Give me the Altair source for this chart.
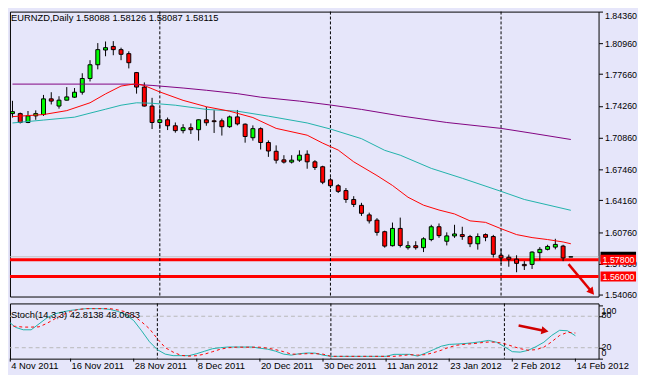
import altair as alt
import pandas as pd

# ---------------- data ----------------
dates = [
    "2011-11-04", "2011-11-07", "2011-11-08", "2011-11-09", "2011-11-10", "2011-11-11",
    "2011-11-14", "2011-11-15", "2011-11-16", "2011-11-17", "2011-11-18", "2011-11-21",
    "2011-11-22", "2011-11-23", "2011-11-24", "2011-11-25", "2011-11-28", "2011-11-29",
    "2011-11-30", "2011-12-01", "2011-12-02", "2011-12-05", "2011-12-06", "2011-12-07",
    "2011-12-08", "2011-12-09", "2011-12-12", "2011-12-13", "2011-12-14", "2011-12-15",
    "2011-12-16", "2011-12-19", "2011-12-20", "2011-12-21", "2011-12-22", "2011-12-23",
    "2011-12-26", "2011-12-27", "2011-12-28", "2011-12-29", "2011-12-30", "2012-01-02",
    "2012-01-03", "2012-01-04", "2012-01-05", "2012-01-06", "2012-01-09", "2012-01-10",
    "2012-01-11", "2012-01-12", "2012-01-13", "2012-01-16", "2012-01-17", "2012-01-18",
    "2012-01-19", "2012-01-20", "2012-01-23", "2012-01-24", "2012-01-25", "2012-01-26",
    "2012-01-27", "2012-01-30", "2012-01-31", "2012-02-01", "2012-02-02", "2012-02-03",
    "2012-02-06", "2012-02-07", "2012-02-08", "2012-02-09", "2012-02-10", "2012-02-13",
    "2012-02-14",
]
opens = [1.7344, 1.7344, 1.7249, 1.7320, 1.7334, 1.7502, 1.7425, 1.7488, 1.7520, 1.7573,
         1.7720, 1.7867, 1.8025, 1.8063, 1.8029, 1.7986, 1.7783, 1.7628, 1.7425, 1.7249,
         1.7278, 1.7214, 1.7162, 1.7193, 1.7172, 1.7278, 1.7267, 1.7267, 1.7204, 1.7309,
         1.7231, 1.7086, 1.7183, 1.7035, 1.6941, 1.6849, 1.6825, 1.6846, 1.6909, 1.6828,
         1.6775, 1.6635, 1.6572, 1.6520, 1.6425, 1.6362, 1.6260, 1.6204, 1.6080, 1.5930,
         1.6115, 1.5909, 1.5930, 1.5909, 1.5996, 1.6133, 1.5978, 1.6035, 1.6049, 1.6028,
         1.5951, 1.6049, 1.6028, 1.5828, 1.5807, 1.5786, 1.5730, 1.5730, 1.5856, 1.5891,
         1.5915, 1.5926, 1.58088]
highs = [1.7481, 1.7355, 1.7372, 1.7379, 1.7544, 1.7573, 1.7530, 1.7628, 1.7618, 1.7776,
         1.7916, 1.8099, 1.8116, 1.8120, 1.8050, 1.8011, 1.7790, 1.7678, 1.7513, 1.7397,
         1.7302, 1.7249, 1.7231, 1.7239, 1.7281, 1.7415, 1.7381, 1.7291, 1.7323, 1.7383,
         1.7239, 1.7218, 1.7197, 1.7057, 1.7004, 1.6899, 1.6899, 1.6951, 1.6951, 1.6846,
         1.6786, 1.6660, 1.6589, 1.6547, 1.6460, 1.6389, 1.6284, 1.6225, 1.6091, 1.6178,
         1.6231, 1.5978, 1.5978, 1.6020, 1.6154, 1.6168, 1.6073, 1.6154, 1.6133, 1.6046,
         1.6062, 1.6062, 1.6046, 1.5898, 1.5835, 1.5828, 1.5765, 1.5870, 1.5915, 1.5940,
         1.6004, 1.5940, 1.58126]
lows = [1.7302, 1.7239, 1.7242, 1.7278, 1.7320, 1.7442, 1.7397, 1.7485, 1.7513, 1.7547,
        1.7688, 1.7818, 1.7958, 1.7969, 1.7916, 1.7828, 1.7558, 1.7420, 1.7179, 1.7179,
        1.7168, 1.7140, 1.7133, 1.7126, 1.7055, 1.7214, 1.7137, 1.7109, 1.7192, 1.7218,
        1.7033, 1.7055, 1.6960, 1.6881, 1.6810, 1.6810, 1.6810, 1.6827, 1.6754, 1.6741,
        1.6589, 1.6547, 1.6494, 1.6389, 1.6344, 1.6249, 1.6168, 1.6038, 1.5909, 1.5922,
        1.5912, 1.5888, 1.5888, 1.5862, 1.5978, 1.6014, 1.5933, 1.6014, 1.5993, 1.5915,
        1.5888, 1.5978, 1.5804, 1.5730, 1.5705, 1.5646, 1.5670, 1.5681, 1.5775, 1.5880,
        1.5891, 1.5765, 1.58087]
closes = [1.7365, 1.7249, 1.7320, 1.7344, 1.7502, 1.7478, 1.7488, 1.7523, 1.7573, 1.7720,
          1.7867, 1.8029, 1.8050, 1.8029, 1.7979, 1.7889, 1.7628, 1.7425, 1.7249, 1.7278,
          1.7214, 1.7162, 1.7193, 1.7172, 1.7278, 1.7246, 1.7258, 1.7204, 1.7309, 1.7234,
          1.7099, 1.7183, 1.7035, 1.6944, 1.6846, 1.6825, 1.6846, 1.6899, 1.6828, 1.6768,
          1.6610, 1.6572, 1.6512, 1.6425, 1.6372, 1.6277, 1.6196, 1.6073, 1.5926, 1.6115,
          1.5933, 1.5930, 1.5909, 1.6004, 1.6133, 1.6038, 1.6035, 1.6056, 1.6028, 1.5951,
          1.6028, 1.6020, 1.5838, 1.5799, 1.5786, 1.5741, 1.5716, 1.5862, 1.5891, 1.5922,
          1.5944, 1.5799, 1.58115]

# moving averages read at sampled bars
ma_fast_idx = [0, 4, 7, 10, 12, 14, 16, 17, 19, 22, 25, 28, 31, 34, 38, 40, 42, 44, 47,
               49, 51, 53, 55, 57, 59, 61, 63, 65, 67, 69, 71, 72]
ma_fast = [1.7312, 1.7334, 1.7376, 1.7460, 1.7555, 1.7639, 1.7665, 1.7644, 1.7576, 1.7486,
           1.7418, 1.7370, 1.7302, 1.7186, 1.7113, 1.7028, 1.6954, 1.6828, 1.6681, 1.6575,
           1.6449, 1.6364, 1.6312, 1.6270, 1.6196, 1.6180, 1.6112, 1.6049, 1.6017, 1.5996,
           1.5970, 1.5951]
ma_mid_idx = [0, 4, 8, 10, 12, 14, 16, 18, 21, 25, 29, 33, 38, 41, 45, 48, 50, 54, 58, 63, 66, 72]
ma_mid = [1.7244, 1.7275, 1.7306, 1.7349, 1.7391, 1.7434, 1.7460, 1.7455, 1.7434, 1.7389,
          1.7370, 1.7317, 1.7244, 1.7179, 1.7076, 1.6951, 1.6899, 1.6758, 1.6652, 1.6512,
          1.6425, 1.6309]
ma_slow_idx = [0, 15, 18, 22, 25, 29, 32, 37, 41, 45, 50, 56, 63, 67, 72]
ma_slow = [1.7660, 1.7660, 1.7646, 1.7618, 1.7594, 1.7558, 1.7520, 1.7478, 1.7436, 1.7389,
           1.7320, 1.7249, 1.7186, 1.7134, 1.7067]

stoch_k = [71.8, 58.9, 54.2, 54.2, 65.5, 76.9, 84.5, 88.3, 91.1, 93.0,
           94.5, 94.5, 94.5, 93.0, 89.2, 82.6, 71.8, 52.3, 31.4, 16.3,
           7.8, 4.9, 4.9, 4.9, 8.7, 13.4, 18.2, 20.1, 21.4, 21.4,
           21.4, 21.4, 19.1, 17.2, 13.4, 7.8, 5.9, 8.7, 10.0, 9.7,
           5.9, 3.6, 3.6, 3.6, 3.6, 3.6, 3.6, 3.6, 3.6, 7.4,
           7.4, 7.4, 4.0, 9.7, 16.3, 22.9, 26.3, 27.1, 28.0, 29.5,
           31.4, 33.9, 30.5, 22.0, 12.5, 11.6, 15.0, 22.0, 30.5, 43.4,
           53.2, 52.3, 42.81]
stoch_d = [62.3, 60.8, 59.3, 59.3, 59.8, 66.5, 75.0, 82.6, 89.2, 93.0,
           94.5, 94.5, 94.5, 94.5, 92.0, 88.3, 80.7, 69.3, 56.1, 37.1,
           20.1, 11.6, 5.5, 4.0, 4.9, 7.8, 12.5, 17.2, 20.1, 21.0,
           21.0, 21.0, 21.0, 19.1, 16.3, 12.5, 7.8, 7.8, 8.7, 8.7,
           7.8, 3.6, 3.6, 3.6, 3.6, 3.6, 3.6, 3.6, 3.6, 3.6,
           4.9, 6.8, 5.9, 6.8, 10.6, 15.3, 21.0, 24.8, 26.7, 27.7,
           29.5, 30.9, 30.5, 27.7, 22.9, 18.2, 15.3, 16.3, 21.0, 31.4,
           43.4, 49.4, 48.07]

price_ticks = [1.8436, 1.8096, 1.7766, 1.7426, 1.7086, 1.6746, 1.6416, 1.6076, 1.5736, 1.5406]
stoch_ticks = [0, 20, 80, 100]
stoch_levels = [20, 80]
date_tick_idx = [0, 8, 16, 24, 32, 40, 48, 56, 64, 72]
date_tick_labels = ["4 Nov 2011", "16 Nov 2011", "28 Nov 2011", "8 Dec 2011", "20 Dec 2011",
                    "30 Dec 2011", "11 Jan 2012", "23 Jan 2012", "2 Feb 2012", "14 Feb 2012"]
month_starts = ["2011-12-01", "2012-01-02", "2012-02-01"]
levels = [1.578, 1.560]
level_labels = ["1.57800", "1.56000"]
bid = 1.58115
title_text = "EURNZD,Daily  1.58088 1.58126 1.58087 1.58115"
stoch_text = "Stoch(14,3,3) 42.8138 48.0683"
arrow_main = {"x1": [71.7], "y1": [1.5733], "x2": [74.6], "y2": [1.5445]}
arrow_stoch = {"x1": [64.8], "y1": [62.3], "x2": [68.0], "y2": [52.5]}

# ---------------- chart ----------------
W, H, SH = 597, 289, 56
FONT = "Liberation Sans"
BG = "#E6E6FA"

xscale = alt.Scale(domain=[0.3125, 74.9375], nice=False, zero=False)
pscale = alt.Scale(domain=[1.5386, 1.8436], nice=False, zero=False)
sscale = alt.Scale(domain=[-0.8, 104.4], nice=False, zero=False)

price_axis = alt.Axis(orient="right", values=price_ticks, format=".5f", tickSize=4,
                      tickColor="black", labelColor="black", labelFont=FONT, labelFontSize=9,
                      labelPadding=2, domain=False, grid=False, title=None,
                      labelOverlap=False, labelFlush=True)
stoch_axis = alt.Axis(orient="right", values=stoch_ticks, labels=False, tickSize=4,
                      tickColor="black", domain=False, grid=False, title=None)


def xi(field="i"):
    return alt.X(f"{field}:Q", scale=xscale, axis=None, title=None)


def yp(field):
    return alt.Y(f"{field}:Q", scale=pscale, axis=price_axis, title=None)


def ys(field):
    return alt.Y(f"{field}:Q", scale=sscale, axis=stoch_axis, title=None)


idx = list(range(len(dates)))
candles = pd.DataFrame({"i": idx, "date": dates, "open": opens, "high": highs,
                        "low": lows, "close": closes})
candles["dir"] = ["up" if c >= o else "down" for o, c in zip(opens, closes)]
months = pd.DataFrame({"i": [dates.index(d) for d in month_starts]})
lev = pd.DataFrame({"p": levels, "lbl": level_labels})
bid_df = pd.DataFrame({"p": [bid]})

fast_df = pd.DataFrame({"i": ma_fast_idx, "v": ma_fast})
mid_df = pd.DataFrame({"i": ma_mid_idx, "v": ma_mid})
slow_df = pd.DataFrame({"i": ma_slow_idx, "v": ma_slow})

bid_line = alt.Chart(bid_df).mark_rule(color="#C0C0C0", strokeWidth=1).encode(y=yp("p"))
level_lines = alt.Chart(lev).mark_rule(color="#FF0000", strokeWidth=3).encode(y=yp("p"))
month_main = alt.Chart(months).mark_rule(color="black", strokeWidth=1, strokeDash=[3, 2]).encode(x=xi())

wicks = alt.Chart(candles).mark_rule(color="black", strokeWidth=1, clip=True).encode(
    x=xi(), y=yp("low"), y2="high")
bodies = alt.Chart(candles).mark_bar(size=4, stroke="black", strokeWidth=1, clip=True,
                                     orient="vertical").encode(
    x=xi(), y=yp("open"), y2="close",
    color=alt.Color("dir:N", scale=alt.Scale(domain=["up", "down"], range=["#00FF00", "#FF0000"]),
                    legend=None))

ma_slow_line = alt.Chart(slow_df).mark_line(color="#800080", strokeWidth=1, clip=True).encode(x=xi(), y=yp("v"))
ma_mid_line = alt.Chart(mid_df).mark_line(color="#20B2AA", strokeWidth=1, clip=True).encode(x=xi(), y=yp("v"))
ma_fast_line = alt.Chart(fast_df).mark_line(color="#FF0000", strokeWidth=1, clip=True).encode(x=xi(), y=yp("v"))

title = alt.Chart(pd.DataFrame({"t": [title_text]})).mark_text(
    align="left", baseline="top", font=FONT, fontSize=9.5, color="black").encode(
    x=alt.value(1), y=alt.value(2), text="t:N")

am = pd.DataFrame(arrow_main)
arrow1 = alt.Chart(am).mark_rule(color="#E00000", strokeWidth=2.5).encode(
    x=xi("x1"), x2="x2", y=yp("y1"), y2="y2")
arrow1_head = alt.Chart(am).mark_point(shape="triangle", filled=True, size=70, angle=140,
                                       color="#E00000", opacity=1).encode(x=xi("x2"), y=yp("y2"))

bid_box = alt.Chart(bid_df).mark_tick(orient="horizontal", size=36, thickness=10, color="black",
                                      opacity=1).encode(x=alt.value(617), y=yp("p"))
lev_box = alt.Chart(lev).mark_tick(orient="horizontal", size=36, thickness=10, color="#FF0000",
                                   opacity=1).encode(x=alt.value(617), y=yp("p"))
lev_txt = alt.Chart(lev).mark_text(align="left", baseline="middle", font=FONT, fontSize=9,
                                   color="white").encode(x=alt.value(601), y=yp("p"), text="lbl:N")

main = alt.layer(
    bid_line, level_lines, month_main, wicks, bodies,
    ma_slow_line, ma_mid_line, ma_fast_line, title, arrow1, arrow1_head,
    bid_box, lev_box, lev_txt,
).properties(width=W, height=H)

# ---------- stochastic panel ----------
stoch_df = pd.DataFrame({"i": idx, "k": stoch_k, "d": stoch_d})
slev = pd.DataFrame({"v": stoch_levels})
s_levels = alt.Chart(slev).mark_rule(color="#B8B8B8", strokeWidth=1, strokeDash=[4, 3]).encode(y=ys("v"))
month_st = alt.Chart(months).mark_rule(color="black", strokeWidth=1, strokeDash=[3, 2]).encode(x=xi())
k_line = alt.Chart(stoch_df).mark_line(color="#20B2AA", strokeWidth=1, clip=True).encode(x=xi(), y=ys("k"))
d_line = alt.Chart(stoch_df).mark_line(color="#FF0000", strokeWidth=1, strokeDash=[3, 3], clip=True).encode(
    x=xi(), y=ys("d"))
s_title = alt.Chart(pd.DataFrame({"t": [stoch_text]})).mark_text(
    align="left", baseline="middle", font=FONT, fontSize=9.5, color="black").encode(
    x=alt.value(1), y=alt.value(11.5), text="t:N")

st_lab = pd.DataFrame({"v": stoch_ticks, "t": [str(v) for v in stoch_ticks]})
lab_layers = []
for val, dy in [(80, -1), (100, 5), (20, -1), (0, -5)]:
    lab_layers.append(
        alt.Chart(st_lab).transform_filter(f"datum.v == {val}").mark_text(
            align="left", baseline="middle", font=FONT, fontSize=9, color="black", dy=dy).encode(
            x=alt.value(W + 3), y=ys("v"), text="t:N"))

dticks = pd.DataFrame({"i": date_tick_idx, "t": date_tick_labels})
date_text = alt.Chart(dticks).transform_calculate(ix="max(datum.i, 0.35)").mark_text(
    align="left", baseline="alphabetic", font=FONT, fontSize=9.5, color="black", dx=1).encode(
    x=xi("ix"), y=alt.value(SH + 10.5), text="t:N")
date_marks = alt.Chart(dticks).transform_calculate(ix="max(datum.i, 0.35)").mark_rule(
    color="black", strokeWidth=1).encode(x=xi("ix"), y=alt.value(SH), y2=alt.value(SH + 3))

ast = pd.DataFrame(arrow_stoch)
arrow2 = alt.Chart(ast).mark_rule(color="#D00000", strokeWidth=2.5).encode(
    x=xi("x1"), x2="x2", y=ys("y1"), y2="y2")
arrow2_head = alt.Chart(ast).mark_point(shape="triangle", filled=True, size=70, angle=101,
                                        color="#D00000", opacity=1).encode(x=xi("x2"), y=ys("y2"))

stoch = alt.layer(
    s_levels, month_st, k_line, d_line, s_title, *lab_layers, date_text, date_marks,
    arrow2, arrow2_head,
).properties(width=W, height=SH)

chart = alt.vconcat(main, stoch, spacing=2).properties(
    background=BG, padding={"left": 0, "top": 0, "right": 0, "bottom": 6}
).configure_view(stroke="black", strokeWidth=1, fill=BG)

chart.save("out.html", embed_options={"renderer": "svg", "actions": False})
